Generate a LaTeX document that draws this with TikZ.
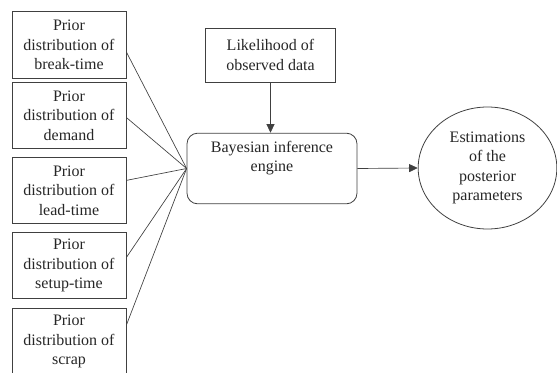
\documentclass[tikz,border=0pt]{standalone}
\usepackage{fontspec}
\setmainfont{Liberation Serif}
\usetikzlibrary{shapes.geometric,arrows.meta}

\begin{document}
\begin{tikzpicture}[x=0.75pt,y=-0.75pt,
  every node/.style={font=\fontsize{12pt}{14.5pt}\selectfont, align=center, text=black!85},
  priorbox/.style={draw=black!75, line width=0.6pt, minimum width=85.5pt, minimum height=50pt, inner sep=0pt},
  enginebox/.style={draw=black!75, line width=0.6pt, rounded corners=8pt, minimum width=127.5pt, minimum height=53pt},
  estimate/.style={draw=black!75, line width=0.6pt, ellipse, minimum width=104pt, minimum height=91.5pt, inner sep=0pt},
  link/.style={black!75, line width=0.5pt},
  >={Triangle[length=6.5pt,width=6pt]}]
\useasboundingbox (0,0) rectangle (557,372);

\node[priorbox] (breaktime) at (69,45) {Prior\\distribution of\\break-time};
\node[priorbox] (demand) at (69,115.5) {Prior\\distribution of\\demand};
\node[priorbox] (leadtime) at (69,190.5) {Prior\\distribution of\\lead-time};
\node[priorbox] (setuptime) at (69,265.5) {Prior\\distribution of\\setup-time};
\node[priorbox] (scrap) at (69,341.5) {Prior\\distribution of\\scrap};

\node[priorbox, minimum width=98pt, minimum height=40.5pt] (likelihood) at (270.5,55) {Likelihood of\\observed data};
\node[enginebox] (engine) at (272,168.5) {};
\node (enginetext) at (272,158) {Bayesian inference\\engine};
\node[estimate] (posterior) at (487.5,168) {Estimations\\of the\\posterior\\parameters};

\draw[link] (breaktime.-7) -- (engine.west);
\draw[link] (demand.-2) -- (engine.west);
\draw[link] (leadtime.10) -- (engine.west);
\draw[link] (setuptime.8) -- (engine.west);
\draw[link] (scrap.16) -- (engine.west);

\draw[link,->] (likelihood.south) -- (likelihood.south |- engine.north);
\draw[link,->] (engine.east) -- (posterior.west);
\end{tikzpicture}
\end{document}
